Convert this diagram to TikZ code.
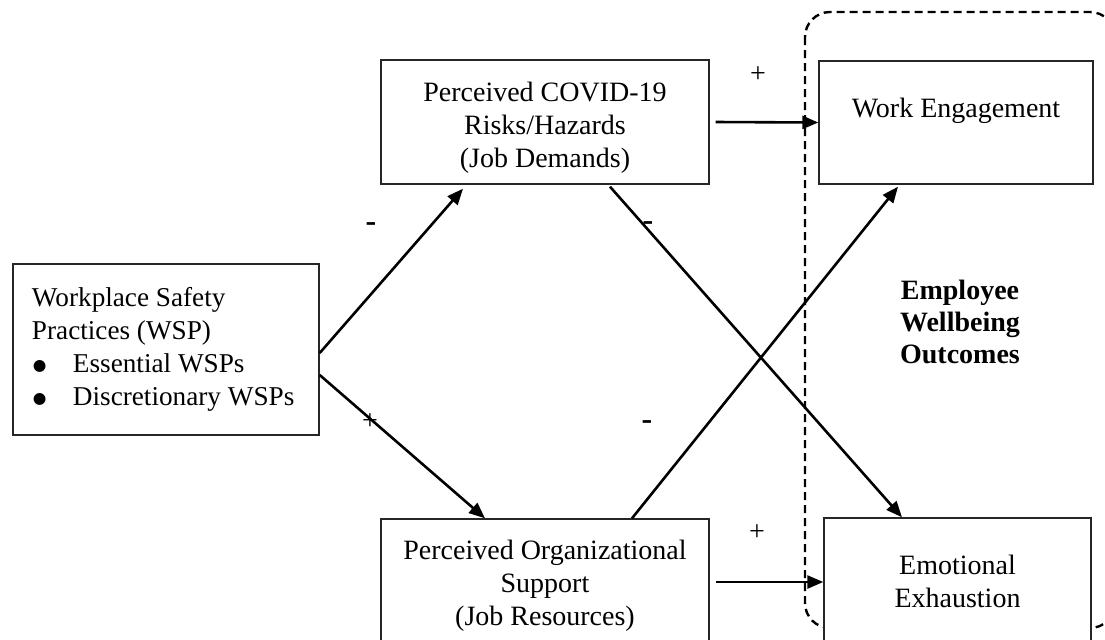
\documentclass[tikz,border=0pt]{standalone}
\usepackage{fontspec}
\setmainfont{Liberation Serif}
\newfontfamily\symfont{DejaVu Sans}
\newcommand{\bigbul}{\raisebox{1pt}{\symfont\fontsize{7.8}{8}\selectfont ●}}
\usetikzlibrary{arrows.meta}
\begin{document}
\begin{tikzpicture}[x=0.5pt,y=-0.5pt,
  box/.style={draw=black!85,line width=0.7pt,fill=white,inner sep=0pt,align=center,
    font=\fontsize{14}{16.5}\selectfont},
  lbl/.style={inner sep=0pt,font=\fontsize{14}{16.5}\selectfont},
  minus/.style={inner sep=0pt,font=\fontsize{16}{16}\selectfont\bfseries},
  conn/.style={line width=1.3pt,-{Triangle[length=8pt,width=6.5pt]}},
  group/.style={line width=1.2pt,dash pattern=on 4pt off 2.5pt,rounded corners=12.5pt}]
\useasboundingbox (0,0) rectangle (1105,639);
\clip (0,0) rectangle (1105,639);
% dashed outcome group
\draw[group] (805,12) rectangle (1115,628);
% boxes
\node[box,minimum width=153pt,minimum height=85.5pt,text width=134pt,align=flush left,
  font=\fontsize{13.6}{16.5}\selectfont]
  (wsp) at (166,349.5) {\mbox{Workplace Safety}\\\mbox{Practices (WSP)}\\
  \mbox{\makebox[20.5pt][l]{\hspace*{0.5pt}\bigbul}Essential WSPs}\\
  \mbox{\makebox[20.5pt][l]{\hspace*{0.5pt}\bigbul}Discretionary WSPs}};
\node[box,minimum width=164pt,minimum height=62pt,
  label={[lbl,align=center,yshift=-3pt]center:Perceived COVID-19\\Risks/Hazards\\(Job Demands)}]
  (pc) at (545,122) {};
\node[box,minimum width=164pt,minimum height=66.5pt] (pos) at (545,585.5)
  {Perceived Organizational\\Support\\(Job Resources)};
\node[box,minimum width=137pt,minimum height=61.5pt,
  label={[lbl,yshift=6pt]center:Work Engagement}] (we) at (956,122.5) {};
\node[box,minimum width=133.5pt,minimum height=63pt] (ee) at (957.5,581)
  {Emotional\\Exhaustion};
% connectors
\draw[conn] ([yshift=-1.75pt]wsp.east) -- ([xshift=-41pt,yshift=-2pt]pc.south);
\draw[conn] ([yshift=-12.75pt]wsp.east) -- ([xshift=-30pt]pos.north);
\draw[conn] ([xshift=32.5pt,yshift=-1pt]pc.south) -- ([xshift=-27.75pt]ee.north);
\draw[conn] ([xshift=43.5pt]pos.north) -- ([xshift=-29pt,yshift=-1pt]we.south);
\draw[conn] ([xshift=3pt]pc.east) -- (we.west);
\draw[conn] ([xshift=3pt,yshift=-0.5pt]pos.east |- ee.west) -- ([yshift=-0.5pt]ee.west);
% signs
\node[lbl] (s1) at (758,75) {+};
\node[lbl] (s2) at (757,533) {+};
\node[lbl] (s3) at (370,422) {+};
\node[minus] (m1) at (371,227) {-};
\node[minus] (m2) at (648,226) {-};
\node[minus] (m3) at (647,425) {-};
% group label
\node[lbl,align=center,font=\fontsize{14}{16}\selectfont\bfseries] (ewo) at (960,322)
  {Employee\\Wellbeing\\Outcomes};
\end{tikzpicture}
\end{document}
